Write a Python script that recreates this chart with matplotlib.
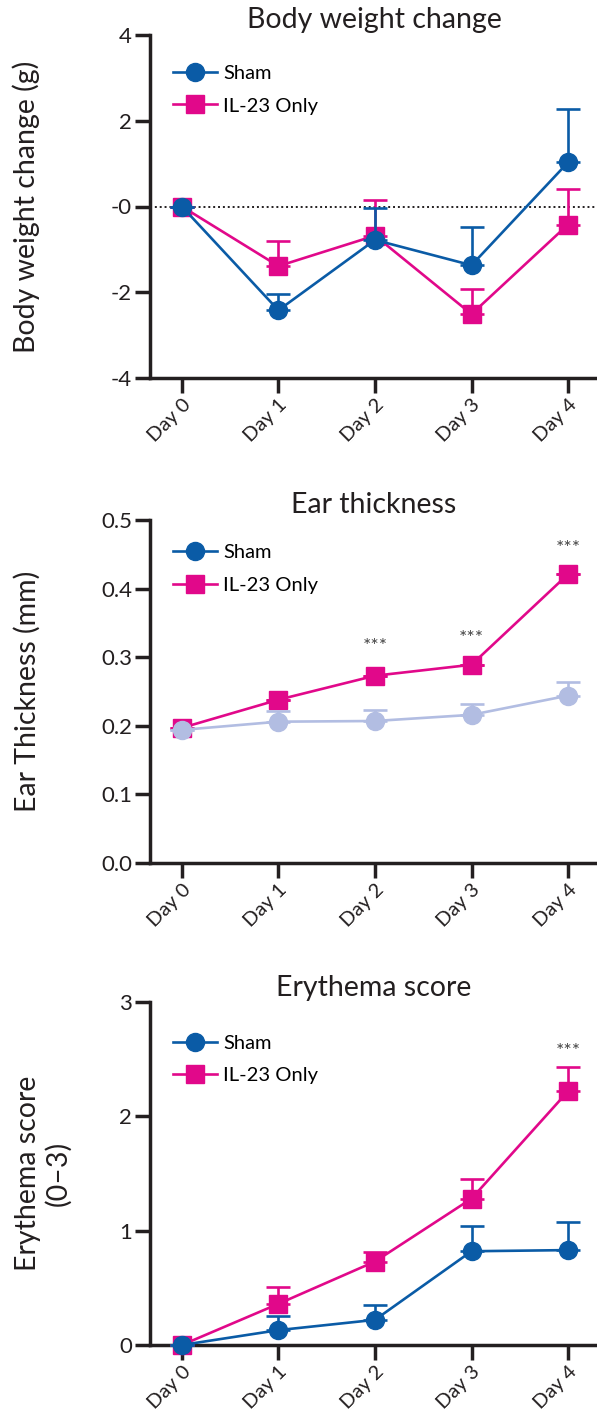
import matplotlib
matplotlib.use("Agg")
import matplotlib.pyplot as plt
from matplotlib.lines import Line2D

plt.rcParams['font.family'] = ['Lato', 'DejaVu Sans']

days = ["Day 0", "Day 1", "Day 2", "Day 3", "Day 4"]
x = list(range(len(days)))

# body weight change (g)
bw_sham = [0.0, -2.42, -0.78, -1.37, 1.03]
bw_sham_err = [0.0, 0.37, 0.75, 0.90, 1.24]
bw_il23 = [0.0, -1.39, -0.68, -2.51, -0.42]
bw_il23_err = [0.0, 0.58, 0.83, 0.58, 0.83]

# ear thickness (mm)
ear_sham = [0.194, 0.206, 0.207, 0.216, 0.244]
ear_sham_err = [0.0, 0.016, 0.016, 0.016, 0.02]
ear_il23 = [0.197, 0.238, 0.273, 0.289, 0.421]
ear_il23_err = [0.0, 0.0, 0.0, 0.0, 0.0]
ear_stars = {2: 0.315, 3: 0.327, 4: 0.458}

# erythema score (0-3)
ery_sham = [0.0, 0.13, 0.22, 0.82, 0.83]
ery_sham_err = [0.0, 0.12, 0.13, 0.22, 0.25]
ery_il23 = [0.0, 0.36, 0.73, 1.28, 2.22]
ery_il23_err = [0.0, 0.15, 0.08, 0.17, 0.21]
ery_stars = {4: 2.565}

BLUE = "#0a5ba6"
PINK = "#e1088a"
LAV = "#b2bde2"
INK = "#231f20"

fig = plt.figure(figsize=(5.97, 14.14), dpi=100)
left, width, height = 150 / 597, 448 / 597, 343 / 1414
bottoms = [1 - 378 / 1414, 1 - 863 / 1414, 1 - 1345 / 1414]


def draw(ax, il, il_err, sh, sh_err, sham_color, leg_y):
    ax.errorbar(x, il, yerr=[[0] * 5, il_err], color=PINK, marker="s", ms=13.5,
                lw=1.9, elinewidth=1.9, capsize=8.5, capthick=1.9, zorder=3)
    ax.errorbar(x, sh, yerr=[[0] * 5, sh_err], color=sham_color, marker="o", ms=13,
                lw=1.9, elinewidth=1.9, capsize=8.5, capthick=1.9, zorder=4)
    handles = [Line2D([], [], color=BLUE, marker="o", ms=13, lw=1.9),
               Line2D([], [], color=PINK, marker="s", ms=13.5, lw=1.9)]
    ax.legend(handles, ["Sham", "IL-23 Only"], loc="upper left",
              bbox_to_anchor=(0.02, leg_y), frameon=False, fontsize=14.5,
              handlelength=2.2, handletextpad=0.3, labelspacing=0.75,
              borderaxespad=0.3)
    ax.set_xlim(-0.33, 4.31)
    ax.set_xticks(x)
    ax.set_xticklabels(days, rotation=45, ha="right", rotation_mode="anchor")
    for s in ["top", "right"]:
        ax.spines[s].set_visible(False)
    for s in ["left", "bottom"]:
        ax.spines[s].set_linewidth(2.5)
        ax.spines[s].set_color(INK)
    ax.tick_params(axis="both", length=11, width=2.5, color=INK, labelsize=16,
                   labelcolor=INK, pad=2)
    ax.tick_params(axis="x", labelsize=14.5)


ax1 = fig.add_axes([left, bottoms[0], width, height])
ax1.axhline(0, color=INK, ls=(0, (1, 1.5)), lw=1.4, zorder=1)
draw(ax1, bw_il23, bw_il23_err, bw_sham, bw_sham_err, BLUE, 0.953)
ax1.set_ylim(-4, 4)
ax1.set_yticks([4, 2, 0, -2, -4])
ax1.set_yticklabels(["4", "2", "-0", "-2", "-4"])
ax1.set_title("Body weight change", fontsize=20.5, color=INK, pad=5)
ax1.set_ylabel("Body weight change (g)", fontsize=20.5, color=INK)
ax1.yaxis.set_label_coords(-0.245, 0.5)

ax2 = fig.add_axes([left, bottoms[1], width, height])
draw(ax2, ear_il23, ear_il23_err, ear_sham, ear_sham_err, LAV, 0.97)
ax2.set_ylim(0, 0.5)
ax2.set_yticks([0, 0.1, 0.2, 0.3, 0.4, 0.5])
ax2.set_yticklabels(["0.0", "0.1", "0.2", "0.3", "0.4", "0.5"])
ax2.set_title("Ear thickness", fontsize=20.5, color=INK, pad=5)
ax2.set_ylabel("Ear Thickness (mm)", fontsize=20.5, color=INK)
ax2.yaxis.set_label_coords(-0.245, 0.5)
for d, yv in ear_stars.items():
    ax2.text(d, yv, "***", ha="center", va="center", fontsize=14, color="#444444")

ax3 = fig.add_axes([left, bottoms[2], width, height])
draw(ax3, ery_il23, ery_il23_err, ery_sham, ery_sham_err, BLUE, 0.945)
ax3.set_ylim(0, 3)
ax3.set_yticks([0, 1, 2, 3])
ax3.set_title("Erythema score", fontsize=20.5, color=INK, pad=4)
ax3.set_ylabel("Erythema score\n(0\u20133)", fontsize=20.5, color=INK,
               linespacing=1.15)
ax3.yaxis.set_label_coords(-0.175, 0.5)
for d, yv in ery_stars.items():
    ax3.text(d, yv, "***", ha="center", va="center", fontsize=14, color="#444444")

for ax in (ax1, ax2, ax3):
    for a in ax.get_children():
        if hasattr(a, "set_clip_on"):
            a.set_clip_on(False)

fig.savefig("out.png", dpi=100)
